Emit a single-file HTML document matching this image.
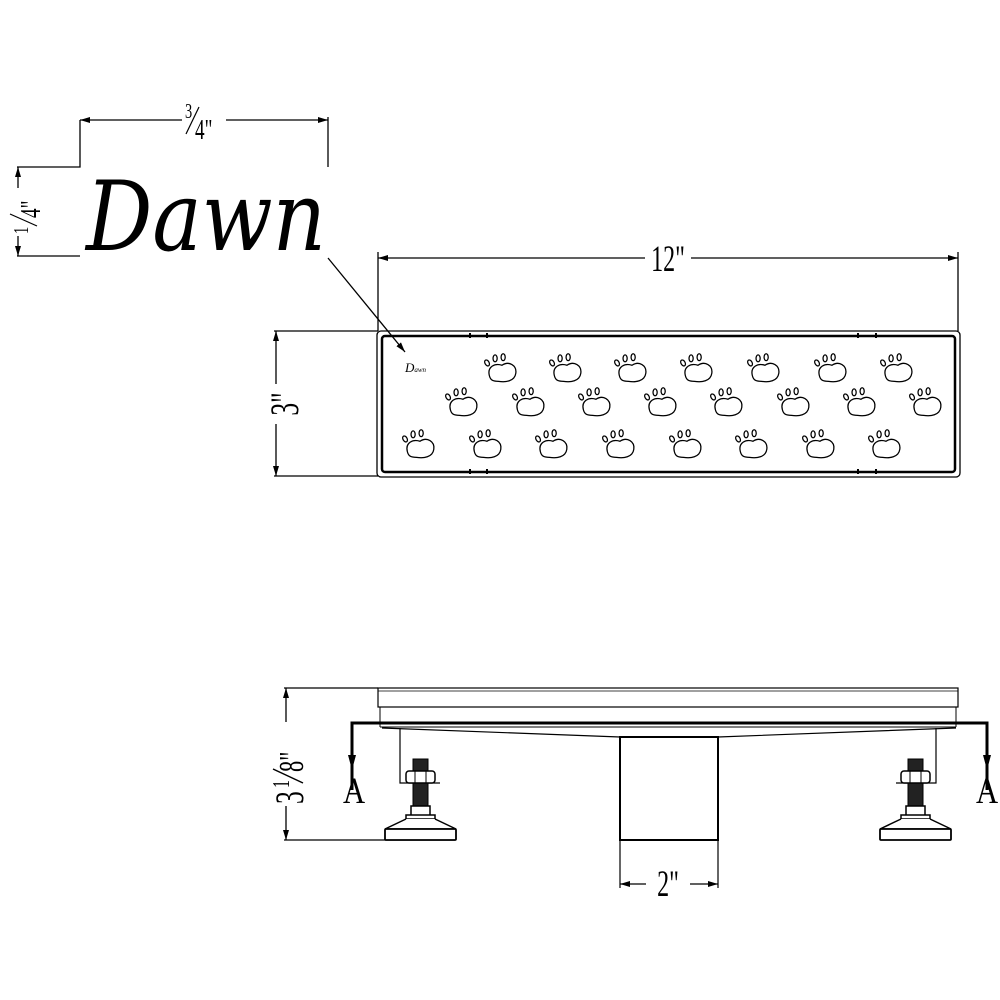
<!DOCTYPE html>
<html><head><meta charset="utf-8"><style>
html,body{margin:0;padding:0;background:#fff;}
svg{display:block}
text{font-family:"Liberation Serif",serif;fill:#000}
</style></head><body>
<svg width="1000" height="1000" viewBox="0 0 1000 1000" xmlns="http://www.w3.org/2000/svg">
<defs>
<marker id="ar" viewBox="0 0 10 6" refX="10" refY="3" markerWidth="10" markerHeight="6" orient="auto-start-reverse" markerUnits="userSpaceOnUse"><path d="M0,0 L10,3 L0,6 Z" fill="#000"/></marker>
<g id="paw" fill="none" stroke="#000" stroke-width="1.1">
<g transform="scale(1.15)">
<path d="M-11,4 C-13,-4 -6,-7 0,-5 C6,-9 13,-5 12,2 C11,9 3,10 -3,9 C-8,9 -10,8 -11,4Z"/>
<ellipse cx="-13" cy="-7" rx="1.8" ry="2.8" transform="rotate(-30 -13 -7)"/>
<ellipse cx="-6" cy="-11" rx="1.8" ry="3"/>
<ellipse cx="1" cy="-12" rx="1.8" ry="3"/>
</g>
</g>
</defs>

<!-- Dawn logo dims -->
<g stroke="#000" stroke-width="1.3" fill="none">
<polyline points="17,167 80,167 80,120"/>
<line x1="80" y1="120" x2="328" y2="120" marker-start="url(#ar)" marker-end="url(#ar)"/>
<line x1="328" y1="117" x2="328" y2="167"/>
<line x1="18" y1="167" x2="18" y2="256" marker-start="url(#ar)" marker-end="url(#ar)"/>
<line x1="17" y1="256" x2="80" y2="256"/>
<line x1="328" y1="258" x2="405" y2="352" marker-end="url(#ar)"/>
</g>
<rect x="182" y="104" width="44" height="36" fill="#fff"/>
<text transform="translate(185,118) scale(0.8,1.2)" font-size="18">3</text>
<line x1="186" y1="134" x2="199" y2="107" stroke="#000" stroke-width="1.2"/>
<text transform="translate(195,139) scale(0.8,1.2)" font-size="24">4"</text>
<g transform="translate(30,212) rotate(-90)">
<rect x="-24" y="-20" width="48" height="30" fill="#fff"/>
<text transform="translate(-22,-2) scale(0.8,1.2)" font-size="18">1</text>
<line x1="-14" y1="7" x2="-2" y2="-20" stroke="#000" stroke-width="1.2"/>
<text transform="translate(-6,10) scale(0.8,1.2)" font-size="24">4"</text>
</g>
<text x="86" y="250" font-size="96" font-style="italic" textLength="240" lengthAdjust="spacingAndGlyphs" style="font-family:'DejaVu Serif','Liberation Serif',serif">Dawn</text>

<!-- 12" dim -->
<g stroke="#000" stroke-width="1.3" fill="none">
<line x1="378" y1="252" x2="378" y2="331"/>
<line x1="958" y1="252" x2="958" y2="331"/>
<line x1="378" y1="258" x2="958" y2="258" marker-start="url(#ar)" marker-end="url(#ar)"/>
<line x1="276" y1="331" x2="276" y2="476" marker-start="url(#ar)" marker-end="url(#ar)"/>
<line x1="274" y1="331" x2="378" y2="331"/>
<line x1="274" y1="476" x2="378" y2="476"/>
</g>
<rect x="645" y="240" width="46" height="34" fill="#fff"/>
<text transform="translate(668,271) scale(0.8,1.25)" font-size="30" text-anchor="middle">12"</text>
<rect x="264" y="384" width="26" height="40" fill="#fff"/>
<text transform="translate(298,404) rotate(-90) scale(0.8,1.25)" font-size="32" text-anchor="middle">3"</text>

<!-- top view -->
<rect x="377" y="331" width="583" height="146" rx="4" fill="none" stroke="#000" stroke-width="1.3"/>
<rect x="382" y="336" width="573" height="136" rx="3" fill="none" stroke="#000" stroke-width="2.5"/>
<g stroke="#000" stroke-width="2"><line x1="470" y1="333" x2="470" y2="338"/><line x1="487" y1="333" x2="487" y2="338"/><line x1="858" y1="333" x2="858" y2="338"/><line x1="876" y1="333" x2="876" y2="338"/><line x1="470" y1="469" x2="470" y2="474"/><line x1="487" y1="469" x2="487" y2="474"/><line x1="858" y1="469" x2="858" y2="474"/><line x1="876" y1="469" x2="876" y2="474"/></g>
<text x="405" y="372" font-size="13" font-style="italic" fill="#444">D<tspan font-size="7">awn</tspan></text>
<use href="#paw" x="502" y="371"/><use href="#paw" x="567" y="371"/><use href="#paw" x="632" y="371"/><use href="#paw" x="698" y="371"/><use href="#paw" x="765" y="371"/><use href="#paw" x="832" y="371"/><use href="#paw" x="898" y="371"/>
<use href="#paw" x="463" y="405"/><use href="#paw" x="530" y="405"/><use href="#paw" x="596" y="405"/><use href="#paw" x="662" y="405"/><use href="#paw" x="728" y="405"/><use href="#paw" x="795" y="405"/><use href="#paw" x="861" y="405"/><use href="#paw" x="927" y="405"/>
<use href="#paw" x="420" y="447"/><use href="#paw" x="487" y="447"/><use href="#paw" x="553" y="447"/><use href="#paw" x="620" y="447"/><use href="#paw" x="687" y="447"/><use href="#paw" x="753" y="447"/><use href="#paw" x="820" y="447"/><use href="#paw" x="886" y="447"/>

<!-- elevation -->
<g stroke="#000" fill="none">
<rect x="378" y="688" width="580" height="19" stroke-width="1.2"/>
<line x1="378" y1="691" x2="958" y2="691" stroke-width="0.8"/>
<line x1="380" y1="707" x2="380" y2="727" stroke-width="1"/>
<line x1="956" y1="707" x2="956" y2="727" stroke-width="1"/>
<polyline points="352,790 352,723 987,723 987,790" stroke-width="3" />
<line x1="380" y1="727" x2="956" y2="727" stroke-width="1"/>
<polyline points="382,728 620,737 718,737 956,728" stroke-width="1.2"/>
<rect x="620" y="737" width="98" height="103" stroke-width="2"/>
<line x1="620" y1="840" x2="620" y2="888" stroke-width="1.2"/>
<line x1="718" y1="840" x2="718" y2="888" stroke-width="1.2"/>
<line x1="620" y1="884" x2="718" y2="884" stroke-width="1.2" marker-start="url(#ar)" marker-end="url(#ar)"/>
<line x1="286" y1="688" x2="286" y2="840" stroke-width="1.3" marker-start="url(#ar)" marker-end="url(#ar)"/>
<line x1="284" y1="688" x2="378" y2="688" stroke-width="1.2"/>
<line x1="284" y1="840" x2="455" y2="840" stroke-width="1.2"/>
</g>
<path d="M348,755 L352,770 L356,755 Z"/>
<path d="M983,755 L987,770 L991,755 Z"/>
<text transform="translate(354,803) scale(0.9,1.1)" font-size="34" text-anchor="middle">A</text>
<text transform="translate(987,803) scale(0.9,1.1)" font-size="34" text-anchor="middle">A</text>
<rect x="646" y="866" width="44" height="34" fill="#fff"/>
<text transform="translate(668,896) scale(0.8,1.25)" font-size="30" text-anchor="middle">2"</text>
<g transform="translate(293,764) rotate(-90)">
<rect x="-42" y="-24" width="84" height="34" fill="#fff"/>
<text transform="translate(-40,10) scale(0.8,1.25)" font-size="32">3</text>
<text transform="translate(-24,-4) scale(0.8,1.2)" font-size="20">1</text>
<line x1="-19" y1="10" x2="-5" y2="-20" stroke="#000" stroke-width="1.5"/>
<text transform="translate(-8,10) scale(0.8,1.25)" font-size="28">8"</text>
</g>

<!-- feet -->
<g id="foot" stroke="#000" fill="none">
<polyline points="400,728 400,783 440,783" stroke-width="1.2"/>
<rect x="413" y="759" width="15" height="56" fill="#222" stroke-width="1"/>
<rect x="406" y="771" width="29" height="12" rx="3" fill="#fff" stroke-width="1.5"/>
<line x1="415" y1="771" x2="415" y2="783"/><line x1="426" y1="771" x2="426" y2="783"/>
<rect x="411" y="806" width="19" height="10" fill="#fff" stroke-width="1.5"/>
<rect x="406" y="815" width="29" height="4" fill="#fff" stroke-width="1.5"/>
<path d="M406,819 L385,829 L456,829 L435,819" fill="#fff" stroke-width="1.5"/>
<rect x="385" y="829" width="71" height="11" rx="1" fill="#fff" stroke-width="1.8"/>
</g>
<use href="#foot" transform="translate(1336,0) scale(-1,1)"/>
</svg>
</body></html>
